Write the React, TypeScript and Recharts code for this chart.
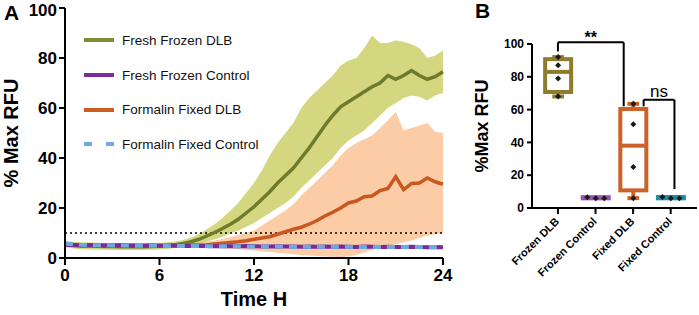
import React from 'react';
import { ComposedChart, Area, Line, Bar, XAxis, YAxis, ReferenceLine } from 'recharts';

// ---- panel A: time course (hours, % max RFU) ----
const hours = [
  0, 0.5, 1, 1.5, 2, 2.5, 3, 3.5, 4, 4.5, 5, 5.5, 6, 6.5, 7, 7.5, 8, 8.5, 9, 9.5, 10, 10.5, 11, 11.5,
  12, 12.5, 13, 13.5, 14, 14.5, 15, 15.5, 16, 16.5, 17, 17.5, 18, 18.5, 19, 19.5, 20, 20.5, 21, 21.5,
  22, 22.5, 23, 23.5, 24,
];

const frozenDlbMean = [
  5.5, 5.0, 4.8, 4.8, 4.7, 4.6, 4.6, 4.5, 4.5, 4.5, 4.5, 4.6, 4.7, 5.0, 5.3, 5.8, 6.5, 7.5, 8.8, 10.2,
  11.8, 13.5, 15.5, 18, 20.5, 23.5, 26.5, 30, 33, 36, 40, 44, 48.5, 53, 57, 60.5, 62.5, 64.5, 66.5, 68.5,
  70, 73, 71.5, 73, 75, 73, 71.5, 72.5, 74.5,
];
const frozenDlbHigh = [
  6.8, 6.5, 6.3, 6.2, 6.1, 6.0, 6.0, 6.0, 6.0, 6.0, 6.0, 6.0, 6.1, 6.3, 6.6, 7.2, 8.2, 9.6, 11.5, 13.5,
  16, 19, 22, 26, 30, 35, 41, 46, 50, 54, 60, 64, 67, 70, 73, 77, 79, 80, 84, 89,
  86, 86, 87, 86.5, 85.5, 84, 80, 81, 83,
];
const frozenDlbLow = [
  4.3, 3.8, 3.5, 3.4, 3.3, 3.3, 3.2, 3.2, 3.2, 3.2, 3.2, 3.3, 3.4, 3.6, 4.0, 4.5, 5, 5.7, 6.5, 7.5,
  8.5, 9.8, 11, 12.5, 14, 16, 18, 20, 22, 24.5, 28, 31, 34, 37, 40, 44, 47, 49, 51, 54,
  57, 60, 62, 64, 65, 64.5, 63, 65, 66,
];

const fixedDlbMean = [
  5.6, 5.3, 5.2, 5.2, 5.2, 5.1, 5.1, 5.1, 5.0, 5.0, 5.0, 5.0, 5.0, 5.0, 5.0, 5.0, 5.1, 5.2, 5.3, 5.6,
  5.9, 6.2, 6.5, 6.9, 7.5, 8, 8.5, 9.5, 10.5, 11.5, 12.3, 13.5, 15, 16.8, 18.3, 20, 22, 22.8, 24.5, 24.8,
  27, 27.8, 32.5, 27.3, 29.8, 30, 32, 30.5, 29.5,
];
const fixedDlbHigh = [
  6.3, 6.0, 5.9, 5.9, 5.9, 5.8, 5.8, 5.8, 5.8, 5.8, 5.8, 5.8, 5.8, 5.8, 5.8, 5.9, 6.0, 6.1, 6.4, 7,
  7.6, 8.3, 9.2, 10, 11, 13, 15, 17, 19, 21.5, 25, 28, 31, 34, 37, 41, 44, 46, 47.5, 49,
  52, 55, 58.5, 51, 52, 53, 54, 50.5, 50,
];
const fixedDlbLow = [
  4.9, 4.6, 4.5, 4.5, 4.5, 4.4, 4.4, 4.4, 4.4, 4.4, 4.4, 4.3, 4.3, 4.3, 4.3, 4.3, 4.3, 4.2, 4.2, 4.1,
  4, 3.8, 3.5, 3.2, 3, 2.7, 2.4, 2.1, 1.8, 1.5, 1.2, 1, 0.8, 0.6, 0.5, 0.4, 0.6, 1.2, 2.2, 3.2,
  4, 4.8, 5.5, 6.3, 7, 8, 9, 9.5, 10,
];

const frozenCtrl = [
  5.3, 5.2, 5.1, 5.2, 5.1, 5.0, 5.0, 5.1, 5.0, 4.9, 4.9, 5.0, 4.9, 4.9, 4.9, 4.8, 4.9, 4.8, 4.8, 4.7,
  4.8, 4.7, 4.7, 4.8, 4.7, 4.6, 4.6, 4.7, 4.6, 4.6, 4.5, 4.6, 4.5, 4.6, 4.5, 4.6, 4.5, 4.4, 4.6, 4.5,
  4.4, 4.5, 4.4, 4.4, 4.5, 4.4, 4.3, 4.4, 4.3,
];
const fixedCtrl = [
  5.8, 5.5, 5.3, 5.2, 5.1, 5.1, 5.0, 5.0, 5.0, 4.9, 4.9, 4.9, 4.9, 4.8, 4.8, 4.8, 4.8, 4.8, 4.7, 4.7,
  4.7, 4.7, 4.7, 4.6, 4.6, 4.6, 4.6, 4.6, 4.6, 4.5, 4.5, 4.5, 4.5, 4.5, 4.5, 4.5, 4.5, 4.4, 4.4, 4.4,
  4.4, 4.4, 4.4, 4.4, 4.4, 4.4, 4.4, 4.4, 4.4,
];

const threshold = 10;
const timeTicks = [0, 6, 12, 18, 24];
const rfuTicks = [0, 20, 40, 60, 80, 100];

const legendItems = [
  { name: 'Fresh Frozen DLB', color: '#7d8a36', dashed: false },
  { name: 'Fresh Frozen Control', color: '#7e2c9c', dashed: false },
  { name: 'Formalin Fixed DLB', color: '#cc5e22', dashed: false },
  { name: 'Formalin Fixed Control', color: '#6fa8dc', dashed: true },
];

// ---- panel B: end point box plot ----
const groups = ['Frozen DLB', 'Frozen Control', 'Fixed DLB', 'Fixed Control'];
const frozenDlbPts = [92, 87, 79, 68];
const frozenCtrlPts = [6.6, 6.0, 5.9];
const fixedDlbPts = [63.5, 51, 25, 6];
const fixedCtrlPts = [6.7, 6.0, 5.9];
const groupPts = [frozenDlbPts, frozenCtrlPts, fixedDlbPts, fixedCtrlPts];
const boxColors = ['#8f7b2c', '#9a4fb4', '#cc6228', '#1e8fa8'];

const font = '"Liberation Sans", Arial, Helvetica, sans-serif';

const timeData = hours.map((h, i) => ({
  h,
  frozenDlb: frozenDlbMean[i],
  frozenDlbBand: [frozenDlbLow[i], frozenDlbHigh[i]],
  fixedDlb: fixedDlbMean[i],
  fixedDlbBand: [fixedDlbLow[i], fixedDlbHigh[i]],
  frozenCtrl: frozenCtrl[i],
  fixedCtrl: fixedCtrl[i],
}));

// prism style quartiles, (n + 1) rank
const quantile = (sorted: number[], p: number) => {
  const r = (sorted.length + 1) * p - 1;
  const lo = Math.max(0, Math.min(sorted.length - 1, Math.floor(r)));
  const hi = Math.min(sorted.length - 1, lo + 1);
  return sorted[lo] + (r - lo) * (sorted[hi] - sorted[lo]);
};

const boxData = groups.map((name, i) => {
  const s = [...groupPts[i]].sort((a, b) => a - b);
  return {
    pos: i,
    name,
    pts: groupPts[i],
    min: s[0],
    q1: quantile(s, 0.25),
    med: quantile(s, 0.5),
    q3: quantile(s, 0.75),
    max: s[s.length - 1],
    color: boxColors[i],
  };
});

const brackets = [
  [{ x: 0, y: 95.5 }, { x: 0, y: 101 }],
  [{ x: 1.75, y: 101 }, { x: 1.75, y: 62 }],
  [{ x: 2.28, y: 62 }, { x: 2.28, y: 66 }],
  [{ x: 3.1, y: 66 }, { x: 3.1, y: 11.5 }],
];

const BoxShape = (props: any) => {
  const { x, y, width, height, payload } = props;
  const base = y + height;
  const py = (v: number) => base - (v / payload.max) * height;
  const cx = x + width / 2;
  const c = payload.color;
  const tight = payload.max - payload.min < 3;
  const cap = width * 0.45;
  return (
    <g>
      <line x1={cx} x2={cx} y1={py(payload.q3)} y2={py(payload.max)} stroke={c} strokeWidth={4} />
      <line x1={cx} x2={cx} y1={py(payload.q1)} y2={py(payload.min)} stroke={c} strokeWidth={4} />
      {!tight && (
        <>
          <line x1={cx - cap / 2} x2={cx + cap / 2} y1={py(payload.max)} y2={py(payload.max)} stroke={c} strokeWidth={4} />
          <line x1={cx - cap / 2} x2={cx + cap / 2} y1={py(payload.min)} y2={py(payload.min)} stroke={c} strokeWidth={4} />
        </>
      )}
      <rect
        x={x}
        y={py(payload.q3)}
        width={width}
        height={Math.max(0.5, py(payload.q1) - py(payload.q3))}
        fill={tight ? c : '#fff'}
        stroke={c}
        strokeWidth={4}
      />
      {!tight && <line x1={x} x2={x + width} y1={py(payload.med)} y2={py(payload.med)} stroke={c} strokeWidth={4} />}
      {payload.pts.map((v: number, j: number) => {
        const px = tight ? cx + (j - (payload.pts.length - 1) / 2) * 8.5 : cx;
        const pyv = py(v);
        return (
          <path
            key={j}
            d={`M${px},${pyv - 3} L${px + 3},${pyv} L${px},${pyv + 3} L${px - 3},${pyv} Z`}
            fill="#1a1a1a"
          />
        );
      })}
    </g>
  );
};

const GroupTick = ({ x, y, payload }: any) => (
  <g transform={`translate(${x + 2},${y + 6}) rotate(-45)`}>
    <text x={0} y={0} textAnchor="end" fontFamily={font} fontWeight="bold" fontSize={11} fill="#000">
      {groups[payload.value]}
    </text>
  </g>
);

const axisTick = { fontFamily: font, fontWeight: 'bold' as const, fill: '#000' };

export default function App() {
  return (
    <div style={{ position: 'absolute', left: 0, top: 0, width: 699, height: 315, background: '#fff', fontFamily: font }}>
      <div style={{ position: 'absolute', left: 4, top: 1, fontSize: 21, fontWeight: 'bold' }}>A</div>
      <div style={{ position: 'absolute', left: 475, top: -1, fontSize: 21, fontWeight: 'bold' }}>B</div>

      <div style={{ position: 'absolute', left: 0, top: 0 }}>
        <ComposedChart width={460} height={315} data={timeData} margin={{ top: 8, right: 17, bottom: 0, left: 0 }}>
          <XAxis
            type="number"
            dataKey="h"
            domain={[0, 24]}
            ticks={timeTicks}
            height={57}
            tick={{ ...axisTick, fontSize: 17 }}
            tickSize={7}
            tickMargin={4}
            axisLine={{ stroke: '#000', strokeWidth: 2 }}
            tickLine={{ stroke: '#000', strokeWidth: 2 }}
            label={{ value: 'Time H', position: 'insideBottom', offset: 9, style: { fontFamily: font, fontWeight: 'bold', fontSize: 20, fill: '#000' } }}
          />
          <YAxis
            domain={[0, 100]}
            ticks={rfuTicks}
            width={65}
            tick={{ ...axisTick, fontSize: 17 }}
            tickSize={6}
            tickMargin={2}
            axisLine={{ stroke: '#000', strokeWidth: 2 }}
            tickLine={{ stroke: '#000', strokeWidth: 2 }}
            label={{ value: '% Max RFU', angle: -90, position: 'insideLeft', offset: 11, style: { textAnchor: 'middle', fontFamily: font, fontWeight: 'bold', fontSize: 20, fill: '#000' } }}
          />
          <ReferenceLine y={threshold} stroke="#000" strokeWidth={1.5} strokeDasharray="2 3" />
          <Area dataKey="frozenDlbBand" stroke="none" fill="#b9bd2c" fillOpacity={0.6} isAnimationActive={false} />
          <Area dataKey="fixedDlbBand" stroke="none" fill="#f7a35c" fillOpacity={0.55} isAnimationActive={false} />
          <Line dataKey="frozenDlb" stroke="#6f7b2c" strokeWidth={3.5} dot={false} isAnimationActive={false} />
          <Line dataKey="fixedDlb" stroke="#c8581e" strokeWidth={3.5} dot={false} isAnimationActive={false} />
          <Line dataKey="frozenCtrl" stroke="#7a2a98" strokeWidth={4} dot={false} isAnimationActive={false} />
          <Line dataKey="fixedCtrl" stroke="#6fa8dc" strokeWidth={4} strokeDasharray="8 6" dot={false} isAnimationActive={false} />
        </ComposedChart>
      </div>

      <div style={{ position: 'absolute', left: 84, top: 23 }}>
        {legendItems.map((it) => (
          <div key={it.name} style={{ display: 'flex', alignItems: 'center', height: 34.7 }}>
            <svg width={30} height={6} style={{ marginRight: 8 }}>
              <line x1={0} x2={30} y1={3} y2={3} stroke={it.color} strokeWidth={4} strokeDasharray={it.dashed ? '8 14' : undefined} />
            </svg>
            <span style={{ fontSize: 13.5, color: '#111' }}>{it.name}</span>
          </div>
        ))}
      </div>

      <div style={{ position: 'absolute', left: 465, top: 0 }}>
        <ComposedChart width={234} height={315} data={boxData} margin={{ top: 44, right: 2, bottom: 0, left: 0 }}>
          <XAxis
            type="number"
            dataKey="pos"
            domain={[-0.69, 3.7]}
            ticks={[0, 1, 2, 3]}
            height={107}
            tick={<GroupTick />}
            tickSize={6}
            axisLine={{ stroke: '#000', strokeWidth: 2 }}
            tickLine={{ stroke: '#000', strokeWidth: 2 }}
          />
          <YAxis
            domain={[0, 100]}
            ticks={rfuTicks}
            width={67}
            tick={{ ...axisTick, fontSize: 12 }}
            tickSize={5}
            tickMargin={3}
            axisLine={{ stroke: '#000', strokeWidth: 2 }}
            tickLine={{ stroke: '#000', strokeWidth: 2 }}
            label={{ value: '%Max  RFU', angle: -90, position: 'insideLeft', offset: 17, style: { textAnchor: 'middle', fontFamily: font, fontWeight: 'bold', fontSize: 18, fill: '#000' } }}
          />
          <Bar dataKey="max" barSize={26} shape={<BoxShape />} isAnimationActive={false} />
          <ReferenceLine
            segment={[{ x: 0, y: 101 }, { x: 1.75, y: 101 }]}
            stroke="#000"
            strokeWidth={2}
            ifOverflow="visible"
            label={{ value: '**', position: 'top', offset: -1, style: { fontFamily: font, fontSize: 16, fontWeight: 'bold', fill: '#000' } }}
          />
          <ReferenceLine
            segment={[{ x: 2.28, y: 66 }, { x: 3.1, y: 66 }]}
            stroke="#000"
            strokeWidth={2}
            ifOverflow="visible"
            label={{ value: 'ns', position: 'top', offset: 3, style: { fontFamily: font, fontSize: 17, fill: '#000' } }}
          />
          {brackets.map((seg, i) => (
            <ReferenceLine key={i} segment={seg} stroke="#000" strokeWidth={2} ifOverflow="visible" />
          ))}
        </ComposedChart>
      </div>
    </div>
  );
}
